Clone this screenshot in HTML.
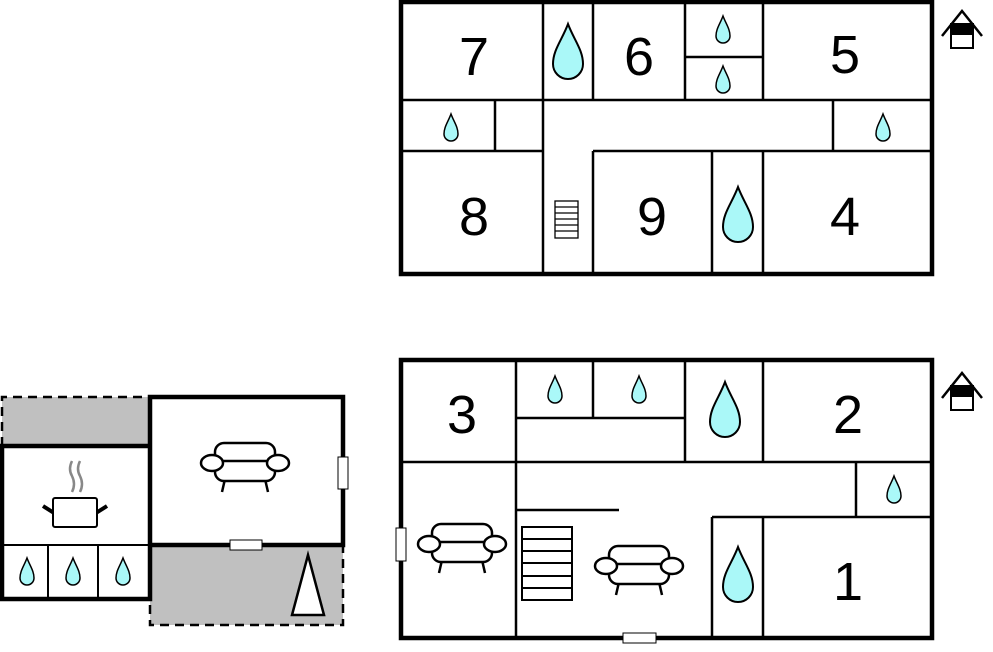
<!DOCTYPE html>
<html><head><style>body{margin:0;background:#fff}svg{display:block}</style></head><body>
<svg width="993" height="652" viewBox="0 0 993 652" xmlns="http://www.w3.org/2000/svg" font-family="Liberation Sans, sans-serif">
<defs>
<g id="sofa" fill="#fff" stroke="#000" stroke-width="2.5">
<line x1="-20" y1="12" x2="-23" y2="25"/><line x1="20" y1="12" x2="23" y2="25"/>
<rect x="-30" y="-24" width="60" height="21" rx="9"/>
<rect x="-30" y="-6" width="60" height="20" rx="9"/>
<ellipse cx="-33" cy="-4" rx="11" ry="8"/><ellipse cx="33" cy="-4" rx="11" ry="8"/>
</g>
<path id="dropS" d="M0,-14 C3,-6 7,-1 7,6 A7,7 0 0 1 -7,6 C-7,-1 -3,-6 0,-14Z" fill="#aaf8f8" stroke="#000" stroke-width="1.5"/>
<path id="dropL" d="M0,-28 C6,-12 15,-2 15,12 A15,15 0 0 1 -15,12 C-15,-2 -6,-12 0,-28Z" fill="#aaf8f8" stroke="#000" stroke-width="2"/>
<g id="house"><rect x="-11" y="4" width="22" height="24" fill="#fff" stroke="#000" stroke-width="2"/><rect x="-11" y="4" width="22" height="11" fill="#000"/><path d="M-20,16 L0,-9 L20,16" fill="none" stroke="#000" stroke-width="2.5"/></g>
</defs>

<!-- TOP PLAN -->
<g stroke="#000" stroke-width="2.5" fill="none">
<line x1="543" y1="2" x2="543" y2="274"/>
<line x1="593" y1="2" x2="593" y2="100"/><line x1="593" y1="151" x2="593" y2="274"/>
<line x1="685" y1="2" x2="685" y2="100"/>
<line x1="763" y1="2" x2="763" y2="100"/><line x1="763" y1="151" x2="763" y2="274"/>
<line x1="712" y1="151" x2="712" y2="274"/>
<line x1="685" y1="57" x2="763" y2="57"/>
<line x1="401" y1="100" x2="932" y2="100"/>
<line x1="401" y1="151" x2="543" y2="151"/><line x1="593" y1="151" x2="932" y2="151"/>
<line x1="495" y1="100" x2="495" y2="151"/>
<line x1="833" y1="100" x2="833" y2="151"/>
<rect x="401" y="2" width="531" height="272" stroke-width="4.5"/>
</g>
<g stroke="#000" stroke-width="1.3" fill="#fff">
<rect x="555" y="201" width="23" height="37"/>
<line x1="555" y1="207" x2="578" y2="207"/><line x1="555" y1="213" x2="578" y2="213"/><line x1="555" y1="219" x2="578" y2="219"/><line x1="555" y1="225" x2="578" y2="225"/><line x1="555" y1="231" x2="578" y2="231"/>
</g>
<g font-size="54" text-anchor="middle" fill="#000">
<text x="474" y="75">7</text><text x="639" y="75">6</text><text x="845" y="73">5</text>
<text x="474" y="235">8</text><text x="652" y="235">9</text><text x="845" y="235">4</text>
</g>
<use href="#dropL" x="568" y="52"/><use href="#dropS" x="723" y="30"/><use href="#dropS" x="723" y="80"/>
<use href="#dropS" x="451" y="128"/><use href="#dropS" x="883" y="128"/><use href="#dropL" x="738" y="215"/>
<use href="#house" x="962" y="20"/>

<!-- BOTTOM PLAN -->
<g stroke="#000" stroke-width="2.5" fill="none">
<line x1="401" y1="462" x2="932" y2="462"/>
<line x1="516" y1="360" x2="516" y2="638"/>
<line x1="593" y1="360" x2="593" y2="418"/>
<line x1="516" y1="418" x2="685" y2="418"/>
<line x1="685" y1="360" x2="685" y2="462"/>
<line x1="763" y1="360" x2="763" y2="462"/>
<line x1="856" y1="462" x2="856" y2="517"/>
<line x1="712" y1="517" x2="932" y2="517"/>
<line x1="712" y1="517" x2="712" y2="638"/>
<line x1="763" y1="517" x2="763" y2="638"/>
<line x1="516" y1="510" x2="619" y2="510"/>
<rect x="401" y="360" width="531" height="278" stroke-width="4.5"/>
</g>
<g stroke="#000" stroke-width="2" fill="#fff">
<rect x="522" y="527" width="50" height="73"/>
<line x1="522" y1="539" x2="572" y2="539"/><line x1="522" y1="551" x2="572" y2="551"/><line x1="522" y1="563" x2="572" y2="563"/><line x1="522" y1="576" x2="572" y2="576"/><line x1="522" y1="588" x2="572" y2="588"/>
</g>
<g stroke="#000" stroke-width="1" fill="#fff">
<rect x="396" y="528" width="10" height="33"/><rect x="623" y="633" width="33" height="10"/>
</g>
<use href="#sofa" x="462" y="548"/><use href="#sofa" x="639" y="570"/>
<g font-size="54" text-anchor="middle" fill="#000">
<text x="462" y="433">3</text><text x="848" y="433">2</text><text x="848" y="600">1</text>
</g>
<use href="#dropS" x="555" y="390"/><use href="#dropS" x="639" y="390"/><use href="#dropL" x="725" y="410"/>
<use href="#dropS" x="894" y="490"/><use href="#dropL" x="738" y="575"/>
<use href="#house" x="962" y="382"/>

<!-- LEFT BUILDING -->
<rect x="2" y="397" width="146" height="49" fill="#c0c0c0"/>
<rect x="150" y="545" width="193" height="80" fill="#c0c0c0"/>
<g stroke="#000" stroke-width="2.5" fill="none" stroke-dasharray="9,6">
<path d="M2,446 L2,397 L148,397"/>
<path d="M150,545 L150,625 L343,625 L343,545"/>
</g>
<g stroke="#000" stroke-width="4.5" fill="none">
<path d="M148,446 L2,446 L2,599 L150,599 L150,397 L343,397 L343,545 L150,545"/>
</g>
<g stroke="#000" stroke-width="2" fill="none">
<line x1="2" y1="545" x2="150" y2="545"/><line x1="48" y1="545" x2="48" y2="599"/><line x1="98" y1="545" x2="98" y2="599"/>
</g>
<g stroke="#000" stroke-width="1" fill="#fff">
<rect x="338" y="457" width="10" height="32"/><rect x="230" y="540" width="32" height="10"/>
</g>
<polygon points="308,555 292,615 324,615" fill="#fff" stroke="#000" stroke-width="2.5"/>
<use href="#sofa" x="245" y="467"/>
<g stroke="#888" stroke-width="2.5" fill="none"><path d="M72,461 q-4,8 0,15 q4,8 0,16"/><path d="M80,461 q-4,8 0,15 q4,8 0,16"/></g>
<g stroke="#000" fill="#fff"><line x1="43" y1="506" x2="54" y2="513" stroke-width="4"/><line x1="107" y1="506" x2="96" y2="513" stroke-width="4"/>
<rect x="53" y="498" width="44" height="29" rx="2" stroke-width="2"/></g>
<use href="#dropS" x="27" y="572"/><use href="#dropS" x="73" y="572"/><use href="#dropS" x="123" y="572"/>
</svg>
</body></html>
